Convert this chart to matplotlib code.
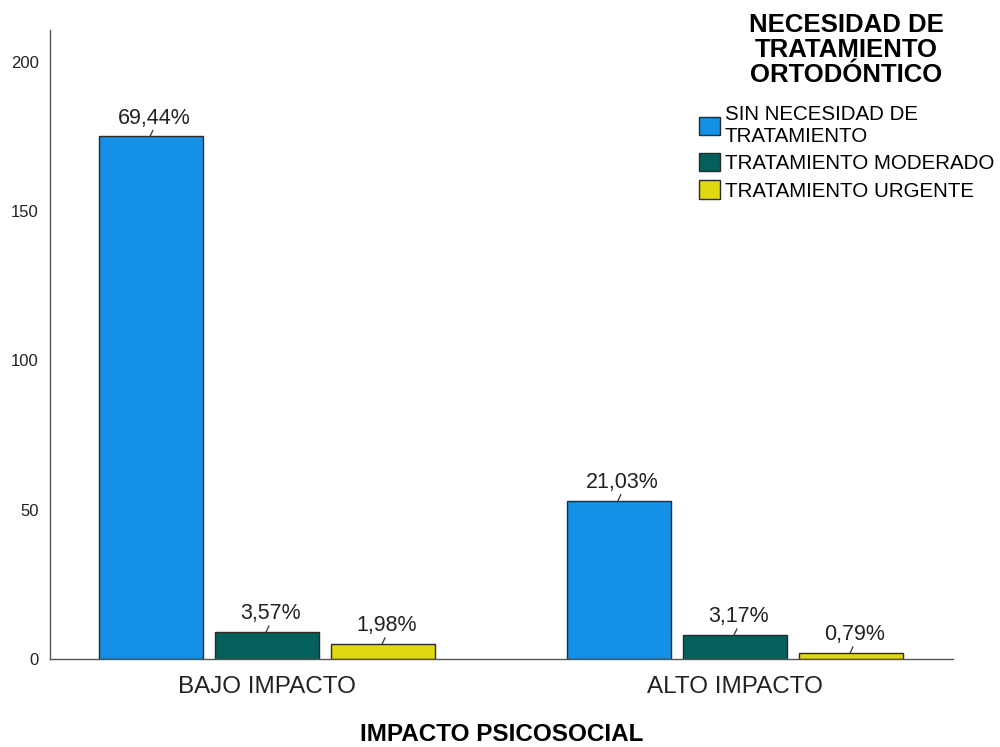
import matplotlib
matplotlib.use("Agg")
import matplotlib.pyplot as plt
import numpy as np

plt.rcParams["font.family"] = ["Liberation Sans", "DejaVu Sans"]

groups = ["BAJO IMPACTO", "ALTO IMPACTO"]
series = ["SIN NECESIDAD DE\nTRATAMIENTO", "TRATAMIENTO MODERADO", "TRATAMIENTO URGENTE"]
counts = [
    [175, 53],
    [9, 8],
    [5, 2],
]
pct_labels = [
    ["69,44%", "21,03%"],
    ["3,57%", "3,17%"],
    ["1,98%", "0,79%"],
]
colors = ["#1490E6", "#03605B", "#E2D812"]
yticks = [0, 50, 100, 150, 200]

fig = plt.figure(figsize=(10, 7.47), dpi=100)
ax = fig.add_axes([0.05, 0.118, 0.903, 0.842])

x = np.arange(len(groups))
width = 0.222
step = 0.248
for i, (name, vals) in enumerate(zip(series, counts)):
    xs = x + (i - 1) * step
    ax.bar(xs, vals, width=width, color=colors[i], edgecolor="#2a2a2a",
           linewidth=1.0, label=name, zorder=2)
    for xi, v, lab in zip(xs, vals, pct_labels[i]):
        # short leader tick between bar top and its label
        ax.plot([xi - 0.002, xi + 0.004], [v, v + 2.0], color="#333333", lw=0.9, zorder=3)
        ax.text(xi + 0.008, v + 4.2, lab, ha="center", va="baseline", fontsize=15.5,
                color="#222222")

ax.set_xlim(-0.4637, 1.4658)
ax.set_ylim(0, 210.7)
ax.set_xticks(x)
ax.set_xticklabels(groups, fontsize=17.5, color="#222222")
ax.set_yticks(yticks)
ax.set_yticklabels([str(t) for t in yticks], fontsize=12, color="#222222")
ax.tick_params(axis="x", length=0, pad=12)
ax.tick_params(axis="y", length=0, pad=8)
for s in ["top", "right"]:
    ax.spines[s].set_visible(False)
for s in ["left", "bottom"]:
    ax.spines[s].set_color("#555555")
    ax.spines[s].set_linewidth(1.0)
ax.set_xlabel("IMPACTO PSICOSOCIAL", fontsize=17.5, fontweight="bold", labelpad=18)

leg = fig.legend(loc="upper left", bbox_to_anchor=(0.699, 0.983), frameon=False,
                 title="NECESIDAD DE\nTRATAMIENTO\nORTODÓNTICO",
                 fontsize=14.8, handlelength=1.0, handleheight=1.0,
                 handletextpad=0.25, labelspacing=0.35, borderaxespad=0, borderpad=0)
title = leg.get_title()
title.set_fontsize(18.5)
title.set_fontweight("bold")
title.set_linespacing(1.07)
title.set_multialignment("center")
for t in leg.get_texts():
    t.set_linespacing(1.15)
for h in leg.legend_handles:
    h.set_edgecolor("#2a2a2a")
# more room between the legend title and the entries
leg._legend_box.sep = 13

fig.savefig("out.png", dpi=100)
